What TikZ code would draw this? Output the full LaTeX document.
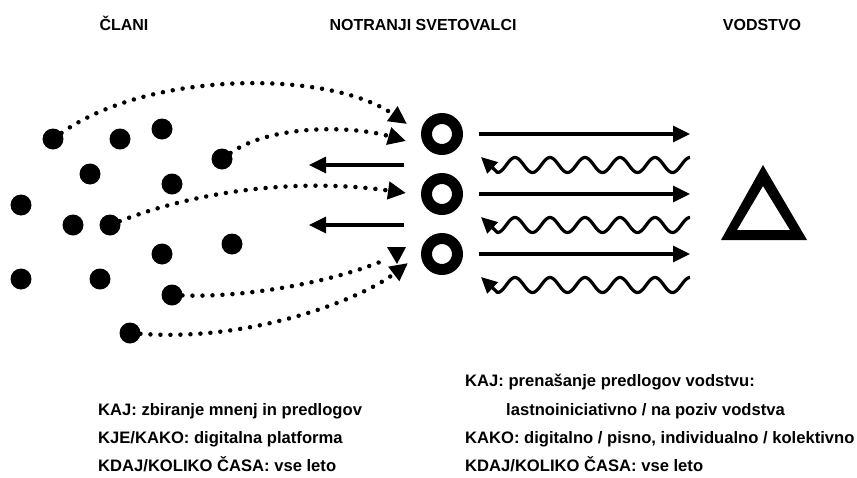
\documentclass[tikz,border=0pt]{standalone}
\usepackage{fontspec}
\setmainfont{Liberation Sans}
\usetikzlibrary{arrows.meta}
\begin{document}
\begin{tikzpicture}[x=1pt,y=-1pt,
  dot/.style={circle,fill=black,minimum size=21pt,inner sep=0pt,outer sep=0pt},
  ring/.style={circle,draw=black,line width=11pt,minimum size=31pt,inner sep=0pt,outer sep=5.5pt},
  dotline/.style={line width=4.5pt,line cap=round,dash pattern=on 0pt off 10pt,
    -{Triangle[length=18pt,width=17pt]}},
  dotplain/.style={line width=4.5pt,line cap=round,dash pattern=on 0pt off 10pt},
  straight/.style={line width=3.2pt,-{Triangle[length=17pt,width=16pt]}},
  wave/.style={line width=3.2pt,line join=round,-{Triangle[length=16pt,width=15pt]}},
  head/.style={font=\fontsize{16}{19}\bfseries,inner sep=0pt,anchor=base},
  body/.style={font=\fontsize{16.6}{20}\bfseries,inner sep=0pt,anchor=base west}]
\useasboundingbox[fill=white] (0,0) rectangle (857,477);

% headings
\node[head] (h1) at (124,30) {ČLANI};
\node[head] (h2) at (423,30) {NOTRANJI SVETOVALCI};
\node[head] (h3) at (762,30) {VODSTVO};

% members
\node[dot] (d1) at (53,139) {};
\node[dot] (d2) at (120,139) {};
\node[dot] (d3) at (162,129) {};
\node[dot] (d4) at (222,159) {};
\node[dot] (d5) at (90,174) {};
\node[dot] (d6) at (172,184) {};
\node[dot] (d7) at (21,205) {};
\node[dot] (d8) at (73,225) {};
\node[dot] (d9) at (110,225) {};
\node[dot] (d10) at (232,244) {};
\node[dot] (d11) at (162,254) {};
\node[dot] (d12) at (21,279) {};
\node[dot] (d13) at (100,279) {};
\node[dot] (d14) at (172,295) {};
\node[dot] (d15) at (130,333) {};

% advisers
\node[ring] (r1) at (442,134) {};
\node[ring] (r2) at (442,194) {};
\node[ring] (r3) at (442,254) {};

% leadership
\fill[even odd rule] (763,165) -- (721,240) -- (807,240) -- cycle
                     (763,186) -- (790,230) -- (737,230) -- cycle;

% dotted arrows from members
\coordinate (t1) at (407,124);
\coordinate (t2) at (406,141);
\coordinate (t3) at (406,193);
\coordinate (e4) at (387,259);
\coordinate (t5) at (408,263);
\draw[dotline] (d1) .. controls (150,70) and (330,70) .. (t1);
\draw[dotline] (d4) .. controls (270,125) and (350,125) .. (t2);
\draw[dotline] (d9) .. controls (200,190) and (300,178) .. (t3);
\draw[dotplain] (d14) .. controls (250,298) and (340,280) .. (e4);
\fill (387,247) -- (406,247) -- (397,264) -- cycle;
\draw[dotline] (d15) .. controls (250,342) and (360,300) .. (t5);

% arrows from advisers back to members
\coordinate (la1s) at (404,165); \coordinate (la1e) at (309,165);
\coordinate (la2s) at (404,225); \coordinate (la2e) at (309,225);
\draw[straight] (la1s) -- (la1e);
\draw[straight] (la2s) -- (la2e);

% arrows to leadership
\coordinate (ra1) at (690,134); \coordinate (ra2) at (690,194); \coordinate (ra3) at (690,254);
\draw[straight] (479,134) -- (ra1);
\draw[straight] (479,194) -- (ra2);
\draw[straight] (479,254) -- (ra3);

% wavy arrows from leadership
\foreach \yy/\nm in {165/w1,225/w2,285/w3}{
  \coordinate (\nm) at (481,\yy-8);
  \draw[wave] plot[domain=690:497.5,samples=160] (\x,{\yy+7.5*cos(10.285714*(\x-497.5))}) -- (\nm);
}

% texts
\node[body] (l1) at (98,415) {KAJ: zbiranje mnenj in predlogov};
\node[body] (l2) at (98,443) {KJE/KAKO: digitalna platforma};
\node[body] (l3) at (98,471) {KDAJ/KOLIKO ČASA: vse leto};
\node[body] (m1) at (465,386) {KAJ: prenašanje predlogov vodstvu:};
\node[body] (m2) at (506,415) {lastnoiniciativno / na poziv vodstva};
\node[body] (m3) at (465,443) {KAKO: digitalno / pisno, individualno / kolektivno};
\node[body] (m4) at (465,471) {KDAJ/KOLIKO ČASA: vse leto};
\end{tikzpicture}
\end{document}
